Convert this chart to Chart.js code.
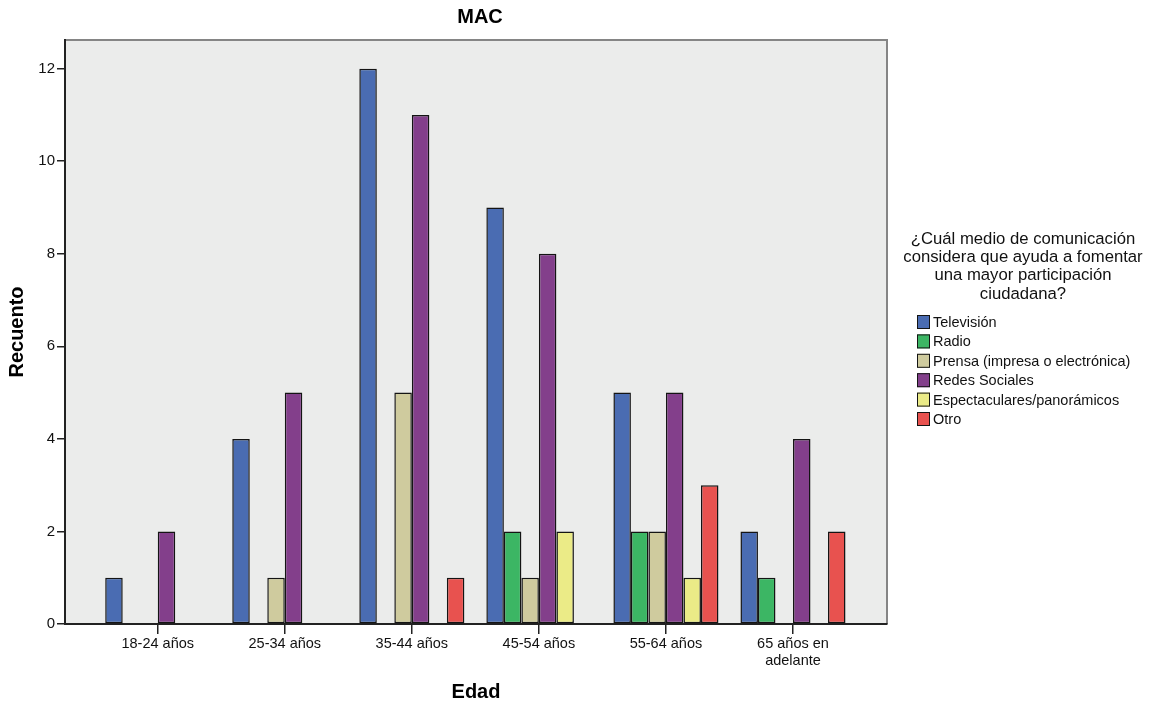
<!DOCTYPE html>
<html>
<head>
<meta charset="utf-8">
<script src="https://cdn.jsdelivr.net/npm/chart.js@4"></script>
<style>
  html, body { margin: 0; padding: 0; background: #ffffff; }
  #wrap { width: 1165px; height: 706px; }
</style>
</head>
<body>
<div id="wrap"><canvas id="chart" width="1165" height="706"></canvas></div>
<script>
const edades = ['18-24 años', '25-34 años', '35-44 años', '45-54 años', '55-64 años', ['65 años en', 'adelante']];

const television = [1, 4, 12, 9, 5, 2];
const radio = [0, 0, 0, 2, 2, 1];
const prensa = [0, 1, 5, 1, 2, 0];
const redes = [2, 5, 11, 8, 5, 4];
const espectaculares = [0, 0, 0, 2, 1, 0];
const otro = [0, 0, 1, 0, 3, 2];

const medios = ['Televisión', 'Radio', 'Prensa (impresa o electrónica)', 'Redes Sociales', 'Espectaculares/panorámicos', 'Otro'];
const colores = ['#4a6cb2', '#3cb664', '#cfcb9e', '#833f8b', '#ebeb87', '#e8524f'];
const legendTitle = ['¿Cuál medio de comunicación', 'considera que ayuda a fomentar', 'una mayor participación', 'ciudadana?'];

const FONT = 'Arial, "Liberation Sans", sans-serif';

// zero counts are simply not drawn
const series = [television, radio, prensa, redes, espectaculares, otro];
const datasets = series.map((vals, k) => ({
    label: medios[k],
    data: vals.map((v, i) => ({ x: i, y: v === 0 ? null : v })),
    backgroundColor: colores[k],
    borderColor: '#141414',
    borderWidth: 1.5,
    borderSkipped: false
}));

const plotBg = {
    id: 'plotBg',
    beforeDraw(chart) {
        const { ctx, chartArea: a } = chart;
        ctx.save();
        ctx.fillStyle = '#ebeceb';
        ctx.fillRect(a.left, a.top, a.right - a.left, a.bottom - a.top);
        ctx.strokeStyle = '#858585';
        ctx.lineWidth = 2;
        ctx.beginPath();
        ctx.moveTo(a.left, a.top);
        ctx.lineTo(a.right, a.top);
        ctx.lineTo(a.right, a.bottom);
        ctx.stroke();
        ctx.restore();
    }
};

const sideText = {
    id: 'sideText',
    afterDraw(chart) {
        const { ctx, chartArea: a } = chart;
        ctx.save();
        // title
        ctx.fillStyle = '#000';
        ctx.font = 'bold 20px ' + FONT;
        ctx.textAlign = 'center';
        ctx.textBaseline = 'middle';
        ctx.fillText('MAC', (a.left + a.right) / 2 + 4, 17);

        // legend
        ctx.font = '16.7px ' + FONT;
        ctx.fillStyle = '#111';
        legendTitle.forEach((t, i) => ctx.fillText(t, 1023, 239 + i * 18.4));
        ctx.textAlign = 'left';
        ctx.font = '14.5px ' + FONT;
        chart.data.datasets.forEach((ds, i) => {
            const y = 322 + i * 19.4;
            ctx.fillStyle = ds.backgroundColor;
            ctx.fillRect(917, y - 7, 13, 14);
            ctx.strokeStyle = '#141414';
            ctx.lineWidth = 1;
            ctx.strokeRect(917.5, y - 6.5, 12, 13);
            ctx.fillStyle = '#111';
            ctx.fillText(ds.label, 933, y + 1);
        });
        ctx.restore();
    }
};

new Chart(document.getElementById('chart'), {
    type: 'bar',
    data: { datasets },
    options: {
        responsive: false,
        animation: false,
        layout: { padding: { top: 40, right: 278, left: 0, bottom: 0 } },
        datasets: {
            bar: { categoryPercentage: 0.827, barPercentage: 1, grouped: true }
        },
        plugins: {
            legend: { display: false },
            tooltip: { enabled: false },
            title: { display: false }
        },
        scales: {
            x: {
                type: 'linear',
                min: -0.73,
                max: 5.74,
                offset: false,
                afterFit(scale) { scale.height = 82; },
                grid: { offset: false, drawOnChartArea: false, drawTicks: true, tickLength: 10, color: '#222', lineWidth: 1.5 },
                border: { display: true, color: '#222', width: 2 },
                ticks: {
                    stepSize: 1,
                    includeBounds: false,
                    autoSkip: false,
                    maxRotation: 0,
                    padding: 2,
                    color: '#111',
                    font: { family: FONT, size: 14.5, lineHeight: 1.15 },
                    callback: (v) => (Number.isInteger(v) && v >= 0 && v < edades.length) ? edades[v] : ''
                },
                title: {
                    display: true,
                    text: 'Edad',
                    color: '#000',
                    font: { family: FONT, size: 20, weight: 'bold' },
                    padding: { top: 0, bottom: 2 }
                }
            },
            y: {
                min: 0,
                max: 12.62,
                afterFit(scale) { scale.width = 65; },
                grid: { drawOnChartArea: false, drawTicks: true, tickLength: 8, color: '#222', lineWidth: 1.5 },
                border: { display: true, color: '#222', width: 2 },
                ticks: {
                    stepSize: 2,
                    includeBounds: false,
                    padding: 2,
                    color: '#111',
                    font: { family: FONT, size: 15 }
                },
                title: {
                    display: true,
                    text: 'Recuento',
                    color: '#000',
                    font: { family: FONT, size: 20, weight: 'bold' },
                    padding: { top: 5, bottom: 0 }
                }
            }
        }
    },
    plugins: [plotBg, sideText]
});
</script>
</body>
</html>
